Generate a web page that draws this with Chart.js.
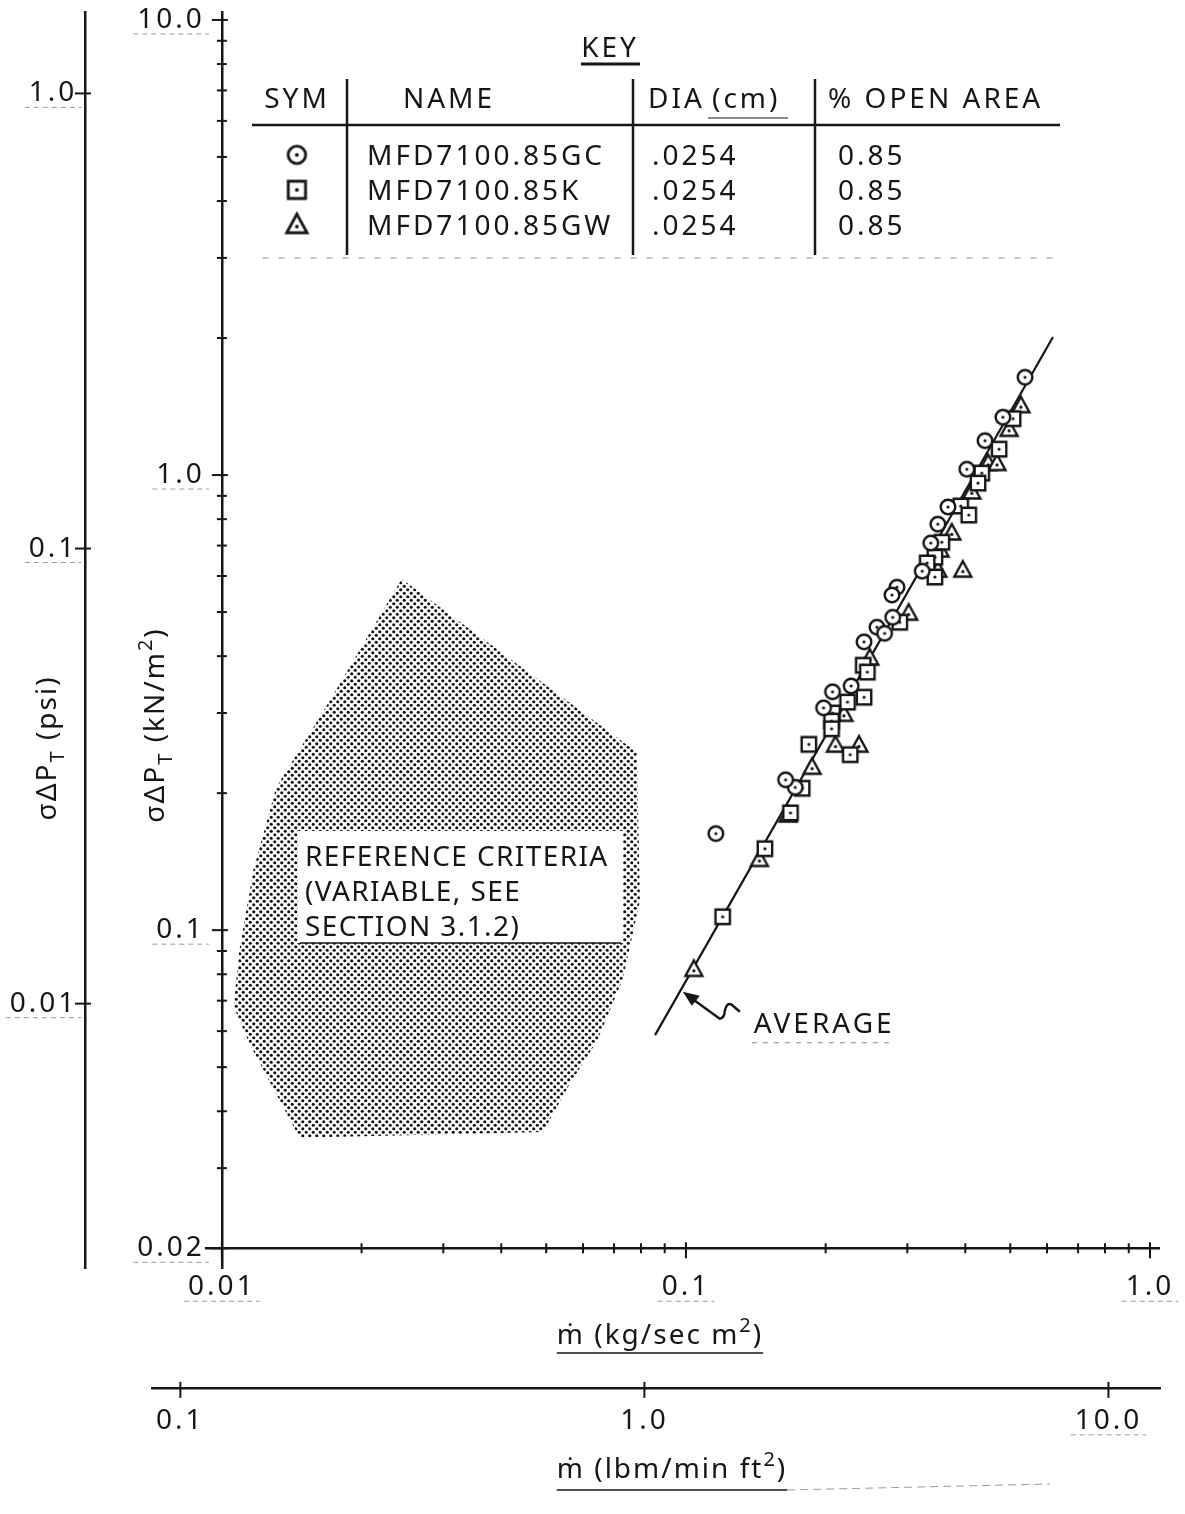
<!DOCTYPE html>
<html>
<head>
<meta charset="utf-8">
<script src="https://cdn.jsdelivr.net/npm/chart.js@4/dist/chart.umd.min.js"></script>
<style>
  html, body { margin: 0; padding: 0; background: #fff; }
  canvas { display: block; }
</style>
</head>
<body>
<canvas id="screen" width="1185" height="1514"></canvas>
<script>
// ---- measured data: flow rate (kg/s m^2) against pressure drop (kN/m^2) ----
const seriesNames = ['MFD7100.85GC', 'MFD7100.85K', 'MFD7100.85GW'];
const seriesDia   = ['.0254', '.0254', '.0254'];
const seriesOpen  = ['0.85', '0.85', '0.85'];

const gcFlow = [0.538, 0.482, 0.441, 0.403, 0.367, 0.349, 0.337, 0.323, 0.285, 0.278,
                0.279, 0.258, 0.268, 0.242, 0.227, 0.207, 0.198, 0.172, 0.164, 0.116];
const gcDrop = [1.64, 1.34, 1.19, 1.03, 0.851, 0.780, 0.709, 0.615, 0.567, 0.545,
                0.487, 0.463, 0.449, 0.430, 0.344, 0.334, 0.308, 0.206, 0.214, 0.163];

const kFlow = [0.507, 0.473, 0.434, 0.426, 0.391, 0.407, 0.356, 0.344, 0.331, 0.344,
               0.289, 0.241, 0.246, 0.242, 0.223, 0.207, 0.206, 0.206, 0.184, 0.226,
               0.178, 0.168, 0.148, 0.120];
const kDrop = [1.33, 1.14, 1.01, 0.960, 0.855, 0.817, 0.712, 0.660, 0.641, 0.597,
               0.475, 0.382, 0.369, 0.325, 0.317, 0.300, 0.288, 0.277, 0.256, 0.243,
               0.205, 0.181, 0.151, 0.107];

const gwFlow = [0.527, 0.497, 0.448, 0.468, 0.413, 0.374, 0.353, 0.349, 0.395, 0.302,
                0.249, 0.219, 0.210, 0.236, 0.187, 0.166, 0.144, 0.104];
const gwDrop = [1.42, 1.26, 1.06, 1.06, 0.918, 0.746, 0.684, 0.618, 0.618, 0.497,
                0.396, 0.298, 0.255, 0.255, 0.228, 0.179, 0.143, 0.082];

// fitted average line (end points)
const averageFlow = [0.0858, 0.618];
const averageDrop = [0.0588, 2.01];

// outline of the reference-criteria band
const criteriaFlow = [0.0244, 0.0171, 0.0131, 0.0117, 0.0109, 0.0106, 0.0115, 0.0147,
                      0.0492, 0.0562, 0.0643, 0.0731, 0.0796, 0.0784];
const criteriaDrop = [0.591, 0.320, 0.206, 0.136, 0.090, 0.068, 0.056, 0.035,
                      0.036, 0.046, 0.057, 0.078, 0.116, 0.246];
const criteriaText = ['REFERENCE CRITERIA', '(VARIABLE, SEE', 'SECTION 3.1.2)'];

// ---- axis ticks ----
const kgTicks = [0.01, 0.02, 0.03, 0.04, 0.05, 0.06, 0.07, 0.08, 0.09,
                 0.1, 0.2, 0.3, 0.4, 0.5, 0.6, 0.7, 0.8, 0.9, 1.0];
const kgLabelAt = [0.01, 0.1, 1.0];
const kgLabelText = ['0.01', '0.1', '1.0'];

const kpaTicks = [0.02, 0.03, 0.04, 0.05, 0.06, 0.07, 0.08, 0.09,
                  0.1, 0.2, 0.3, 0.4, 0.5, 0.6, 0.7, 0.8, 0.9,
                  1, 2, 3, 4, 5, 6, 7, 8, 9, 10];
const kpaLabelAt = [0.02, 0.1, 1, 10];
const kpaLabelText = ['0.02', '0.1', '1.0', '10.0'];

const psiTicks = [0.01, 0.1, 1.0];
const psiLabelText = ['0.01', '0.1', '1.0'];

const lbmTicks = [0.1, 1.0, 10.0];
const lbmLabelText = ['0.1', '1.0', '10.0'];

// unit conversions for the secondary scales
const KPA_PER_PSI = 6.895;      // kN/m^2 per psi
const KGSM_PER_LBM = 0.08138;   // kg/(s m^2) per lbm/(min ft^2)

// ranges and axis placement
const X_MIN = 0.00707, X_MAX = 1.051;
const Y_MIN = 0.0181, Y_MAX = 10.41;
const PSI_AXIS_AT = 0.00507;    // flow value where the psi axis stands
const LBM_AXIS_AT = 0.00987;    // pressure value where the lbm axis stands

const FONT = '"Noto Sans", "DejaVu Sans", sans-serif';
const INK = '#161616';
const FAINT = '#9a9a9a';

const pairs = (xs, ys) => xs.map((x, i) => ({ x, y: ys[i] }));
const closed = pts => pts.concat([pts[0]]);
const sameLog = (a, b) => Math.abs(Math.log10(a) - Math.log10(b)) < 1e-6;

function labeller(at, text, pad) {
  return function (value) {
    const i = at.findIndex(v => sameLog(v, value));
    return i < 0 ? '' : text[i] + pad;
  };
}

// hollow plotting symbols with a centre dot
function markerImage(shape, k) {
  const s = Math.round(24 * k), c = document.createElement('canvas');
  c.width = s; c.height = s;
  const g = c.getContext('2d');
  g.scale(k, k);
  g.lineWidth = 2.4; g.strokeStyle = INK; g.fillStyle = '#fff';
  g.beginPath();
  if (shape === 'circle') g.arc(12, 12, 7.3, 0, Math.PI * 2);
  else if (shape === 'square') g.rect(4.8, 4.8, 14.4, 14.4);
  else { g.moveTo(12, 3); g.lineTo(20.5, 18.5); g.lineTo(3.5, 18.5); g.closePath(); }
  g.fill(); g.stroke();
  g.fillStyle = INK;
  g.beginPath(); g.arc(12, shape === 'triangle' ? 13.4 : 12, 1.6, 0, Math.PI * 2); g.fill();
  return c;
}
const markers = ['circle', 'square', 'triangle'].map(s => markerImage(s, 1));
const keyMarkers = ['circle', 'square', 'triangle'].map(s => markerImage(s, 1.2));

const canvas = document.getElementById('screen');
const ctx0 = canvas.getContext('2d');

// dotted screen tint used for the criteria band
function stipple() {
  const t = document.createElement('canvas');
  t.width = 7; t.height = 7;
  const g = t.getContext('2d');
  g.fillStyle = '#111';
  g.beginPath(); g.arc(1.75, 1.75, 1.55, 0, Math.PI * 2); g.fill();
  g.beginPath(); g.arc(5.25, 5.25, 1.55, 0, Math.PI * 2); g.fill();
  return ctx0.createPattern(t, 'repeat');
}

function line(ctx, x1, y1, x2, y2, w, dash) {
  ctx.save();
  ctx.lineWidth = w;
  if (dash) ctx.setLineDash(dash);
  ctx.beginPath(); ctx.moveTo(x1, y1); ctx.lineTo(x2, y2); ctx.stroke();
  ctx.restore();
}

// text with sub/superscripts; returns its width
function richText(ctx, parts, x, y, size, rotate) {
  const small = Math.round(size * 0.7);
  ctx.save();
  ctx.translate(x, y);
  if (rotate) ctx.rotate(rotate);
  ctx.textAlign = 'left';
  ctx.textBaseline = 'alphabetic';
  const widths = parts.map(([t, k]) => {
    ctx.font = (k === 'n' ? size : small) + 'px ' + FONT;
    return ctx.measureText(t).width;
  });
  const total = widths.reduce((a, b) => a + b, 0);
  let cx = -total / 2;
  parts.forEach(([t, k], i) => {
    ctx.font = (k === 'n' ? size : small) + 'px ' + FONT;
    const dy = k === 'sub' ? size * 0.3 : k === 'sup' ? -size * 0.42 : 0;
    ctx.fillText(t, cx, dy);
    cx += widths[i];
  });
  ctx.restore();
  return total;
}

// axis line of the flow scale (it starts just left of its first tick) and
// ticks drawn as small crosses through each axis line, with faint label underlines
const crossTicks = {
  id: 'crossTicks',
  beforeDraw(chart) { chart.ctx.letterSpacing = '3px'; },
  afterDraw(chart) {
    const ctx = chart.ctx;
    ctx.save();
    ctx.strokeStyle = INK;
    const xs = chart.scales.x;
    const axisY = chart.scales.y.getPixelForValue(xs.options.position.y);
    line(ctx, xs.getPixelForValue(kgTicks[0]) - 17, axisY, chart.chartArea.right, axisY, 2.5);

    ctx.lineWidth = 2;
    ctx.font = '28px ' + FONT;
    ctx.letterSpacing = '3px';
    for (const id of ['x', 'y', 'psi', 'lbm']) {
      const s = chart.scales[id];
      const [ref, v] = Object.entries(s.options.position)[0];
      const at = chart.scales[ref].getPixelForValue(v);
      const pad = s.options.ticks.padding;
      s.ticks.forEach((t, i) => {
        const p = s.getPixelForValue(t.value);
        const major = !!t.label;
        const inner = major ? 6 : 5, outer = major ? 10 : 5;
        ctx.strokeStyle = INK;
        ctx.lineWidth = 2;
        ctx.beginPath();
        if (s.isHorizontal()) { ctx.moveTo(p, at - inner); ctx.lineTo(p, at + outer); }
        else { ctx.moveTo(at + inner, p); ctx.lineTo(at - outer, p); }
        ctx.stroke();
        if (!major || (id === 'lbm' && t.value < 5)) return;
        const w = ctx.measureText(t.label.trim()).width;
        ctx.strokeStyle = FAINT;
        if (s.isHorizontal()) {
          const uy = at + 8 + pad + 31;
          line(ctx, p - w / 2 - 4, uy, p + w / 2 + 4, uy, 1, [5, 4]);
        } else {
          const right = at - ctx.measureText(t.label).width + w + 2;
          line(ctx, right - w - 6, p + 14, right + 2, p + 14, 1, [5, 4]);
        }
      });
    }
    ctx.restore();
  }
};

// key table, labels on the criteria band and the average line, axis titles
const notes = {
  id: 'notes',
  afterDraw(chart) {
    const ctx = chart.ctx;
    const xs = chart.scales.x, ys = chart.scales.y;
    ctx.save();
    ctx.fillStyle = INK;
    ctx.strokeStyle = INK;
    ctx.letterSpacing = '3px';
    ctx.font = '28px ' + FONT;
    ctx.textBaseline = 'alphabetic';

    // key
    ctx.textAlign = 'center';
    ctx.fillText('KEY', 610, 57);
    line(ctx, 581, 64, 640, 64, 3);
    ctx.fillText('SYM', 297, 108);
    ctx.fillText('NAME', 449, 108);
    ctx.textAlign = 'left';
    ctx.fillText('DIA', 648, 108);
    ctx.fillText('(cm)', 712, 108);
    line(ctx, 708, 118, 788, 118, 1.2);
    ctx.fillText('% OPEN AREA', 828, 108);
    line(ctx, 252, 125, 1060, 125, 2.5);
    [347, 633, 815].forEach(x => line(ctx, x, 79, x, 255, 2.5));
    const rowY = [155, 190, 225];
    chart.data.datasets.slice(0, 3).forEach((ds, i) => {
      const m = keyMarkers[i];
      ctx.drawImage(m, 297 - m.width / 2, rowY[i] - m.height / 2);
      ctx.fillText(ds.label, 367, rowY[i] + 10);
      ctx.fillText(seriesDia[i], 652, rowY[i] + 10);
      ctx.fillText(seriesOpen[i], 838, rowY[i] + 10);
    });
    ctx.strokeStyle = FAINT;
    line(ctx, 262, 258, 1060, 258, 1.2, [7, 9]);
    ctx.strokeStyle = INK;

    // criteria band caption
    ctx.fillStyle = '#fff';
    ctx.fillRect(298, 831, 325, 112);
    ctx.fillStyle = INK;
    line(ctx, 300, 943, 621, 943, 1.5);
    ctx.letterSpacing = '1.4px';
    criteriaText.forEach((t, i) => ctx.fillText(t, 305, 866 + i * 35));
    ctx.letterSpacing = '3px';

    // arrow pointing at the average line
    const f = 0.097;
    const tpar = (Math.log10(f) - Math.log10(averageFlow[0])) /
                 (Math.log10(averageFlow[1]) - Math.log10(averageFlow[0]));
    const d = Math.pow(10, Math.log10(averageDrop[0]) +
                 tpar * (Math.log10(averageDrop[1]) - Math.log10(averageDrop[0])));
    const tx = xs.getPixelForValue(f) + 3, ty = ys.getPixelForValue(d);
    ctx.lineWidth = 2.4;
    ctx.lineJoin = 'round';
    ctx.beginPath();
    ctx.moveTo(tx + 8, ty + 6);
    ctx.lineTo(tx + 37, ty + 27);
    ctx.quadraticCurveTo(tx + 42, ty + 26, tx + 42, ty + 19);
    ctx.quadraticCurveTo(tx + 44, ty + 10, tx + 49, ty + 13);
    ctx.lineTo(tx + 57, ty + 20);
    ctx.stroke();
    ctx.beginPath();
    ctx.moveTo(tx, ty);
    ctx.lineTo(tx + 17, ty + 4);
    ctx.lineTo(tx + 9, ty + 14);
    ctx.closePath();
    ctx.fill();
    ctx.fillText('AVERAGE', tx + 71, ty + 41);
    ctx.strokeStyle = '#8a8a8a';
    line(ctx, tx + 69, ty + 51, tx + 210, ty + 51, 1, [5, 6]);
    ctx.strokeStyle = INK;

    // axis titles
    ctx.letterSpacing = '2px';
    richText(ctx, [['\u03C3\u0394P', 'n'], ['T', 'sub'], [' (kN/m', 'n'], ['2', 'sup'], [')', 'n']],
             164, 725, 28, -Math.PI / 2);
    richText(ctx, [['\u03C3\u0394P', 'n'], ['T', 'sub'], [' (psi)', 'n']],
             56, 748, 28, -Math.PI / 2);
    const w1 = richText(ctx, [['\u1E41 (kg/sec m', 'n'], ['2', 'sup'], [')', 'n']], 660, 1344, 28);
    line(ctx, 660 - w1 / 2, 1353, 660 + w1 / 2, 1353, 1.5);
    const w2 = richText(ctx, [['\u1E41 (lbm/min ft', 'n'], ['2', 'sup'], [')', 'n']], 672, 1478, 28);
    line(ctx, 672 - w2 / 2, 1490, 672 + w2 / 2, 1490, 1.5);
    ctx.strokeStyle = FAINT;
    line(ctx, 672 + w2 / 2, 1490, 1050, 1484, 1, [8, 5]);
    ctx.restore();
  }
};

const tickFont = { family: FONT, size: 28 };
const noPad = s => { s.paddingTop = 0; s.paddingBottom = 0; s.paddingLeft = 0; s.paddingRight = 0; };
const axisBase = {
  type: 'logarithmic',
  grid: { display: false, drawTicks: true, tickLength: 8 },
  border: { display: true, color: INK, width: 2.5 },
  afterFit: noPad
};

new Chart(canvas, {
  type: 'scatter',
  data: {
    datasets: [
      { label: seriesNames[0], data: pairs(gcFlow, gcDrop), pointStyle: markers[0], pointRadius: 8, order: 0 },
      { label: seriesNames[1], data: pairs(kFlow, kDrop), pointStyle: markers[1], pointRadius: 8, order: 0 },
      { label: seriesNames[2], data: pairs(gwFlow, gwDrop), pointStyle: markers[2], pointRadius: 8, order: 0 },
      { label: 'AVERAGE', data: pairs(averageFlow, averageDrop), showLine: true,
        borderColor: INK, borderWidth: 2.2, pointRadius: 0, order: 1 },
      { label: 'REFERENCE CRITERIA', data: closed(pairs(criteriaFlow, criteriaDrop)), showLine: true,
        fill: 'shape', backgroundColor: stipple(), borderWidth: 0, pointRadius: 0, order: 2 }
    ]
  },
  options: {
    responsive: false,
    animation: false,
    devicePixelRatio: 1,
    events: [],
    layout: { padding: { left: 152, right: 25, top: 12, bottom: 246 } },
    plugins: { legend: { display: false }, tooltip: { enabled: false } },
    scales: {
      x: Object.assign({}, axisBase, {
        min: X_MIN, max: X_MAX,
        position: { y: 0.02 },
        border: { display: false },
        afterBuildTicks: s => { s.ticks = kgTicks.map(v => ({ value: v })); },
        ticks: { autoSkip: false, maxRotation: 0, color: INK, font: tickFont, padding: 14,
                 callback: labeller(kgLabelAt, kgLabelText, '') }
      }),
      y: Object.assign({}, axisBase, {
        min: Y_MIN, max: Y_MAX,
        position: { x: 0.01 },
        afterBuildTicks: s => { s.ticks = kpaTicks.map(v => ({ value: v })); },
        ticks: { autoSkip: false, color: INK, font: tickFont, padding: 0,
                 callback: labeller(kpaLabelAt, kpaLabelText, '\u2002') }
      }),
      psi: Object.assign({}, axisBase, {
        axis: 'y',
        min: Y_MIN / KPA_PER_PSI, max: Y_MAX / KPA_PER_PSI,
        position: { x: PSI_AXIS_AT },
        afterBuildTicks: s => { s.ticks = psiTicks.map(v => ({ value: v })); },
        ticks: { autoSkip: false, color: INK, font: tickFont, padding: 0,
                 callback: labeller(psiTicks, psiLabelText, '\u2009') }
      }),
      lbm: Object.assign({}, axisBase, {
        axis: 'x',
        min: X_MIN / KGSM_PER_LBM, max: X_MAX / KGSM_PER_LBM,
        position: { y: LBM_AXIS_AT },
        afterBuildTicks: s => { s.ticks = lbmTicks.map(v => ({ value: v })); },
        ticks: { autoSkip: false, maxRotation: 0, color: INK, font: tickFont, padding: 8,
                 callback: labeller(lbmTicks, lbmLabelText, '') }
      })
    }
  },
  plugins: [crossTicks, notes]
});
</script>
</body>
</html>
